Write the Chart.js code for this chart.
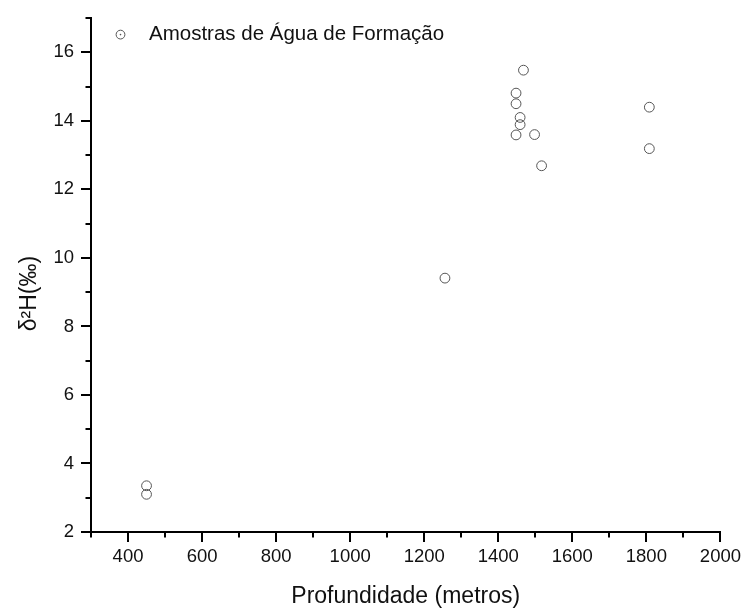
<!DOCTYPE html>
<html>
<head>
<meta charset="utf-8">
<script src="https://cdn.jsdelivr.net/npm/chart.js@4.4.1/dist/chart.umd.min.js"></script>
<style>
  html, body { margin: 0; padding: 0; background: #ffffff; }
  #wrap { width: 745px; height: 611px; }
</style>
</head>
<body>
<div id="wrap"><canvas id="c" width="745" height="611"></canvas></div>
<script>
// ---- data ----
const depth = [450, 450, 1256, 1468, 1448, 1448, 1459, 1459, 1448, 1498, 1517, 1808, 1808];
const d2H   = [3.35, 3.1, 9.41, 15.48, 14.81, 14.5, 14.1, 13.89, 13.59, 13.6, 12.69, 14.4, 13.19];
const seriesName = 'Amostras de Água de Formação';
const xTitle = 'Profundidade (metros)';
const yTitle = 'δ²H(‰)';
const xMajor = [400, 600, 800, 1000, 1200, 1400, 1600, 1800, 2000];
const xMinor = [300, 500, 700, 900, 1100, 1300, 1500, 1700, 1900];
const yMajor = [2, 4, 6, 8, 10, 12, 14, 16];
const yMinor = [3, 5, 7, 9, 11, 13, 15, 17];

const FONT = '"Liberation Sans", Arial, Helvetica, sans-serif';

const points = depth.map((d, i) => ({ x: d, y: d2H[i] }));

const extras = {
  id: 'extras',
  afterDraw(chart) {
    const ctx = chart.ctx;
    const xs = chart.scales.x, ys = chart.scales.y;
    const ca = chart.chartArea;
    ctx.save();
    // minor ticks
    ctx.strokeStyle = '#000';
    ctx.lineWidth = 2;
    ctx.beginPath();
    xMinor.forEach(v => {
      const px = Math.round(xs.getPixelForValue(v));
      ctx.moveTo(px, ca.bottom);
      ctx.lineTo(px, ca.bottom + 5.5);
    });
    yMinor.forEach(v => {
      const py = Math.round(ys.getPixelForValue(v));
      ctx.moveTo(ca.left, py);
      ctx.lineTo(ca.left - 5.5, py);
    });
    ctx.stroke();

    // legend
    const lx = ca.left + 29.5, ly = ca.top + 16.5;
    ctx.strokeStyle = '#555';
    ctx.lineWidth = 1;
    ctx.beginPath();
    ctx.arc(lx, ly, 4.4, 0, Math.PI * 2);
    ctx.stroke();
    ctx.fillStyle = '#555';
    ctx.beginPath();
    ctx.arc(lx, ly, 0.8, 0, Math.PI * 2);
    ctx.fill();
    ctx.fillStyle = '#111';
    ctx.font = '20.5px ' + FONT;
    ctx.textAlign = 'left';
    ctx.textBaseline = 'middle';
    ctx.fillText(seriesName, ca.left + 58, ly);

    // y axis title
    ctx.translate(30, (ca.top + ca.bottom) / 2 + 18.5);
    ctx.rotate(-Math.PI / 2);
    ctx.font = '23px ' + FONT;
    ctx.textAlign = 'center';
    ctx.textBaseline = 'middle';
    ctx.fillText(yTitle, 0, 0);
    ctx.restore();
  }
};

new Chart(document.getElementById('c'), {
  type: 'scatter',
  data: {
    datasets: [{
      label: seriesName,
      data: points,
      pointStyle: 'circle',
      pointRadius: 4.9,
      pointHoverRadius: 4.9,
      pointBorderWidth: 1,
      borderColor: '#555',
      backgroundColor: 'rgba(0,0,0,0)'
    }]
  },
  options: {
    responsive: false,
    animation: false,
    events: [],
    layout: { padding: { top: 16, right: 23, left: 0, bottom: 0 } },
    plugins: {
      legend: { display: false },
      tooltip: { enabled: false }
    },
    scales: {
      x: {
        type: 'linear',
        min: 300,
        max: 2000,
        afterBuildTicks: s => { s.ticks = xMajor.map(v => ({ value: v })); },
        afterFit: s => { s.height = 79; },
        border: { display: true, color: '#000', width: 2 },
        grid: { drawOnChartArea: false, drawTicks: true, tickLength: 10, color: '#000', lineWidth: 2 },
        ticks: { color: '#111', font: { family: FONT, size: 18.5 }, padding: 4, maxRotation: 0, autoSkip: false,
                 callback: v => String(v) },
        title: { display: true, text: xTitle, color: '#111', font: { family: FONT, size: 23 }, padding: { top: 0, bottom: 1 } }
      },
      y: {
        type: 'linear',
        min: 2,
        max: 17,
        afterBuildTicks: s => { s.ticks = yMajor.map(v => ({ value: v })); },
        afterFit: s => { s.width = 91; },
        border: { display: true, color: '#000', width: 2 },
        grid: { drawOnChartArea: false, drawTicks: true, tickLength: 10, color: '#000', lineWidth: 2 },
        ticks: { color: '#111', font: { family: FONT, size: 18.5 }, padding: 7, autoSkip: false,
                 callback: v => String(v) },
        title: { display: false }
      }
    }
  },
  plugins: [extras]
});
</script>
</body>
</html>
